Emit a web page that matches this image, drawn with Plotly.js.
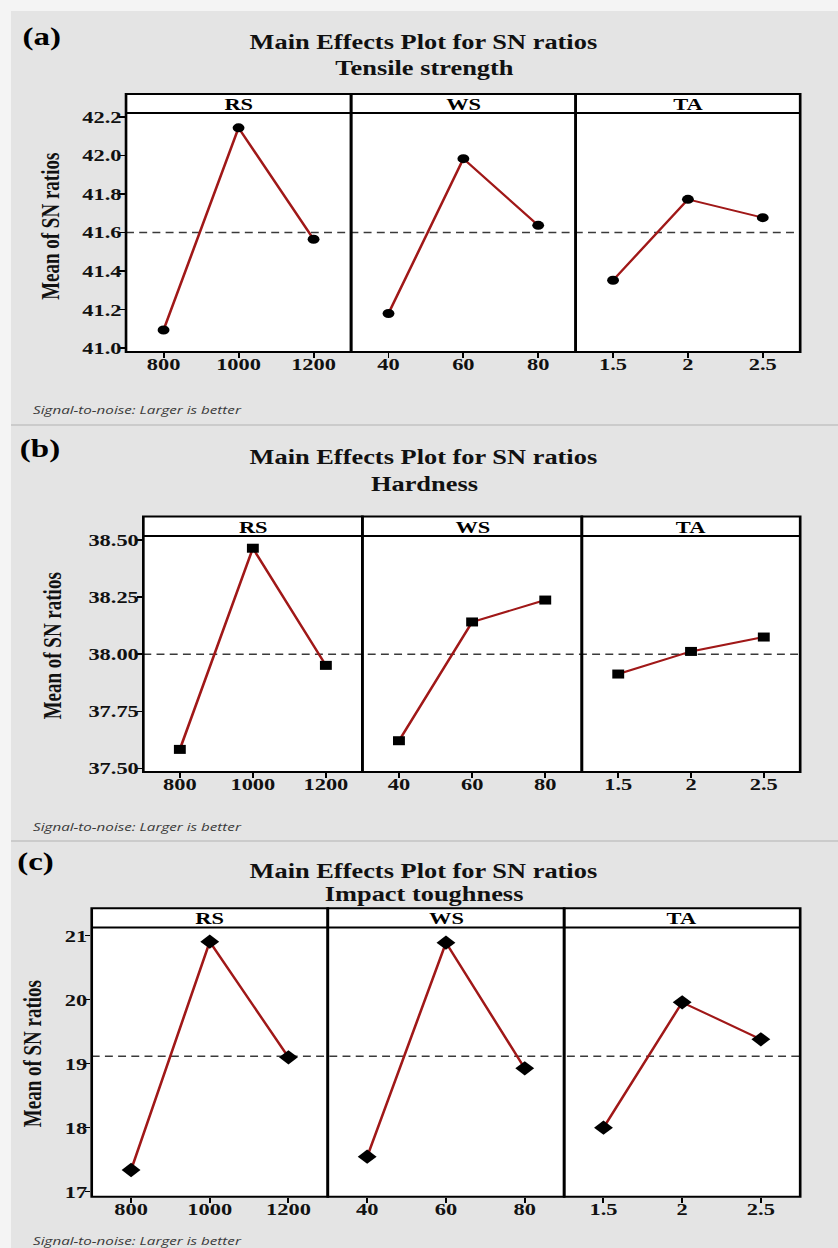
<!DOCTYPE html>
<html>
<head>
<meta charset="utf-8">
<script src="https://cdn.plot.ly/plotly-3.0.1.min.js"></script>
<style>
html, body { margin: 0; padding: 0; background: #e4e4e4; overflow: hidden; }
#wrap { width: 838px; height: 1248px; overflow: hidden; position: relative; }
#chart { position: absolute; left: 0; top: 0; transform-origin: 0 0; }
</style>
</head>
<body>
<div id="wrap"><div id="chart"></div></div>
<script>
// ---------------- data ----------------
const factors = ['RS', 'WS', 'TA'];
const rsLevels = [800, 1000, 1200];
const wsLevels = [40, 60, 80];
const taLevels = [1.5, 2, 2.5];
const rsTickText = ['800', '1000', '1200'];
const wsTickText = ['40', '60', '80'];
const taTickText = ['1.5', '2', '2.5'];

const responses = ['Tensile strength', 'Hardness', 'Impact toughness'];
const panelLabels = ['(a)', '(b)', '(c)'];
const plotTitle = 'Main Effects Plot for SN ratios';
const yTitle = 'Mean of SN ratios';
const footnote = 'Signal-to-noise: Larger is better';

const tensileRS = [41.094, 42.143, 41.565];
const tensileWS = [41.180, 41.983, 41.637];
const tensileTA = [41.352, 41.772, 41.677];

const hardnessRS = [37.583, 38.464, 37.951];
const hardnessWS = [37.621, 38.141, 38.237];
const hardnessTA = [37.913, 38.012, 38.075];

const impactRS = [17.339, 20.906, 19.100];
const impactWS = [17.547, 20.891, 18.928];
const impactTA = [18.000, 19.959, 19.381];

const tensileYTicks = [41.0, 41.2, 41.4, 41.6, 41.8, 42.0, 42.2];
const hardnessYTicks = [37.50, 37.75, 38.00, 38.25, 38.50];
const impactYTicks = [17, 18, 19, 20, 21];

// ---------------- layout / styling ----------------
const SX = 1.32;                 // horizontal stretch of the reference picture
const W = 838 / SX, H = 1248;
const px = x => x / 838;
const py = y => 1 - y / 1248;

const serif = 'Liberation Serif, Times New Roman, serif';
const lineColor = '#a01818';

const panels = [
  { series: [tensileRS, tensileWS, tensileTA], yticks: tensileYTicks, ydec: 1,
    yrange: [40.98, 42.22], symbol: 'circle', msize: 9,
    cols: [126, 351, 575.5, 800], stripTop: 94, plotTop: 113, plotBottom: 352,
    labelPos: [42, 37], titleY: [42, 68], yTitlePos: [50, 226], footY: 410 },
  { series: [hardnessRS, hardnessWS, hardnessTA], yticks: hardnessYTicks, ydec: 2,
    yrange: [37.484, 38.5175], symbol: 'square', msize: 9,
    cols: [143.3, 362.3, 581.7, 800], stripTop: 516.5, plotTop: 536, plotBottom: 772,
    labelPos: [40, 449], titleY: [457, 484], yTitlePos: [52, 646], footY: 826 },
  { series: [impactRS, impactWS, impactTA], yticks: impactYTicks, ydec: 0,
    yrange: [16.922, 21.128], symbol: 'diamond', msize: 11,
    cols: [91.7, 327.7, 564, 800], stripTop: 908.3, plotTop: 927.5, plotBottom: 1196.7,
    labelPos: [36, 862], titleY: [871, 894], yTitlePos: [32, 1054], footY: 1240 }
];

const levels = [rsLevels, wsLevels, taLevels];
const tickTexts = [rsTickText, wsTickText, taTickText];
const xranges = [[700, 1300], [30, 90], [1.25, 2.75]];

const traces = [];
const layout = {
  width: W, height: H,
  margin: { l: 0, r: 0, t: 0, b: 0 },
  paper_bgcolor: '#e4e4e4',
  plot_bgcolor: 'rgba(0,0,0,0)',
  showlegend: false,
  shapes: [], annotations: []
};

// page frame: light margin top/left and separators between panels
layout.shapes.push({ type: 'rect', xref: 'paper', yref: 'paper', x0: 0, x1: 1, y0: py(11), y1: 1,
  fillcolor: '#f4f4f4', line: { width: 0 }, layer: 'below' });
layout.shapes.push({ type: 'rect', xref: 'paper', yref: 'paper', x0: 0, x1: px(11), y0: 0, y1: 1,
  fillcolor: '#f4f4f4', line: { width: 0 }, layer: 'below' });
[425, 841].forEach(y => layout.shapes.push({ type: 'line', xref: 'paper', yref: 'paper',
  x0: px(11), x1: 1, y0: py(y), y1: py(y), line: { color: '#cbcbcb', width: 2 }, layer: 'below' }));

panels.forEach((p, i) => {
  const yName = 'y' + (i + 1);
  const yKey = 'yaxis' + (i === 0 ? '' : (i + 1));
  const firstX = 'x' + (i * 3 === 0 ? '' : (i * 3 + 1));
  const mean = p.series.flat().reduce((a, b) => a + b, 0) / p.series.flat().length;

  layout[yKey] = {
    domain: [py(p.plotBottom), py(p.plotTop)],
    anchor: firstX, range: p.yrange,
    tickvals: p.yticks, ticktext: p.yticks.map(v => v.toFixed(p.ydec)),
    ticks: 'outside', ticklen: 4, tickwidth: 1.5, tickcolor: '#000',
    ticklabelstandoff: -5,
    showgrid: false, zeroline: false, showline: false,
    tickfont: { family: serif, size: 17, color: '#111', weight: 'bold' },
    fixedrange: true
  };

  // white boxes (strip + plot area) for each factor column
  for (let j = 0; j < 3; j++) {
    layout.shapes.push({ type: 'rect', xref: 'paper', yref: 'paper',
      x0: px(p.cols[j]), x1: px(p.cols[j + 1]), y0: py(p.plotBottom), y1: py(p.stripTop),
      fillcolor: '#ffffff', line: { width: 0 }, layer: 'below' });
  }
  // dashed grand-mean line
  layout.shapes.push({ type: 'line', xref: 'paper', yref: yName,
    x0: px(p.cols[0]), x1: px(p.cols[3]), y0: mean, y1: mean,
    line: { color: '#3a3a3a', width: 1.5, dash: '6px,4px' }, layer: 'below' });

  for (let j = 0; j < 3; j++) {
    const k = i * 3 + j + 1;
    const xName = 'x' + (k === 1 ? '' : k);
    const xKey = 'xaxis' + (k === 1 ? '' : k);
    layout[xKey] = {
      domain: [px(p.cols[j]), px(p.cols[j + 1])],
      anchor: yName, range: xranges[j],
      tickvals: levels[j], ticktext: tickTexts[j],
      ticks: 'outside', ticklen: 5, tickwidth: 1.5, tickcolor: '#000',
      ticklabelstandoff: -8,
      showgrid: false, zeroline: false, showline: false,
      tickfont: { family: serif, size: 17, color: '#111', weight: 'bold' },
      fixedrange: true
    };
    traces.push({
      type: 'scatter', mode: 'lines+markers',
      x: levels[j], y: p.series[j], xaxis: xName, yaxis: yName,
      line: { color: lineColor, width: 2 },
      marker: { symbol: p.symbol, size: p.msize, color: '#000' },
      cliponaxis: false, hoverinfo: 'skip'
    });
    // frame of the column
    layout.shapes.push({ type: 'rect', xref: 'paper', yref: 'paper',
      x0: px(p.cols[j]), x1: px(p.cols[j + 1]), y0: py(p.plotBottom), y1: py(p.stripTop),
      line: { color: '#000', width: 2 }, fillcolor: 'rgba(0,0,0,0)', layer: 'above' });
    layout.shapes.push({ type: 'line', xref: 'paper', yref: 'paper',
      x0: px(p.cols[j]), x1: px(p.cols[j + 1]), y0: py(p.plotTop), y1: py(p.plotTop),
      line: { color: '#000', width: 2 }, layer: 'above' });
    // strip label
    layout.annotations.push({ xref: 'paper', yref: 'paper',
      x: px((p.cols[j] + p.cols[j + 1]) / 2), y: py((p.stripTop + p.plotTop) / 2 + 1),
      text: factors[j], showarrow: false, xanchor: 'center', yanchor: 'middle',
      font: { family: serif, size: 17, color: '#000', weight: 'bold' } });
  }

  // panel label, titles, axis title, footnote
  layout.annotations.push({ xref: 'paper', yref: 'paper', x: px(p.labelPos[0]), y: py(p.labelPos[1]),
    text: panelLabels[i], showarrow: false, xanchor: 'center', yanchor: 'middle',
    font: { family: serif, size: 25, color: '#000', weight: 'bold' } });
  layout.annotations.push({ xref: 'paper', yref: 'paper', x: px(424), y: py(p.titleY[0]),
    text: plotTitle, showarrow: false, xanchor: 'center', yanchor: 'middle',
    font: { family: serif, size: 20, color: '#111', weight: 'bold' } });
  layout.annotations.push({ xref: 'paper', yref: 'paper', x: px(424), y: py(p.titleY[1]),
    text: responses[i], showarrow: false, xanchor: 'center', yanchor: 'middle',
    font: { family: serif, size: 20, color: '#111', weight: 'bold' } });
  layout.annotations.push({ xref: 'paper', yref: 'paper', x: px(p.yTitlePos[0]), y: py(p.yTitlePos[1]),
    text: yTitle, showarrow: false, textangle: -90, xanchor: 'center', yanchor: 'middle',
    font: { family: serif, size: 19, color: '#111', weight: 'bold' } });
  layout.annotations.push({ xref: 'paper', yref: 'paper', x: px(30), y: py(p.footY),
    text: footnote, showarrow: false, xanchor: 'left', yanchor: 'middle',
    font: { family: 'Open Sans, DejaVu Sans, sans-serif', size: 11.5, color: '#3a3a3a', style: 'italic' } });
});

const el = document.getElementById('chart');
el.style.width = W + 'px';
el.style.height = H + 'px';
el.style.transform = 'scale(' + SX + ',1)';
Plotly.newPlot(el, traces, layout, { staticPlot: true, displayModeBar: false });
</script>
</body>
</html>
